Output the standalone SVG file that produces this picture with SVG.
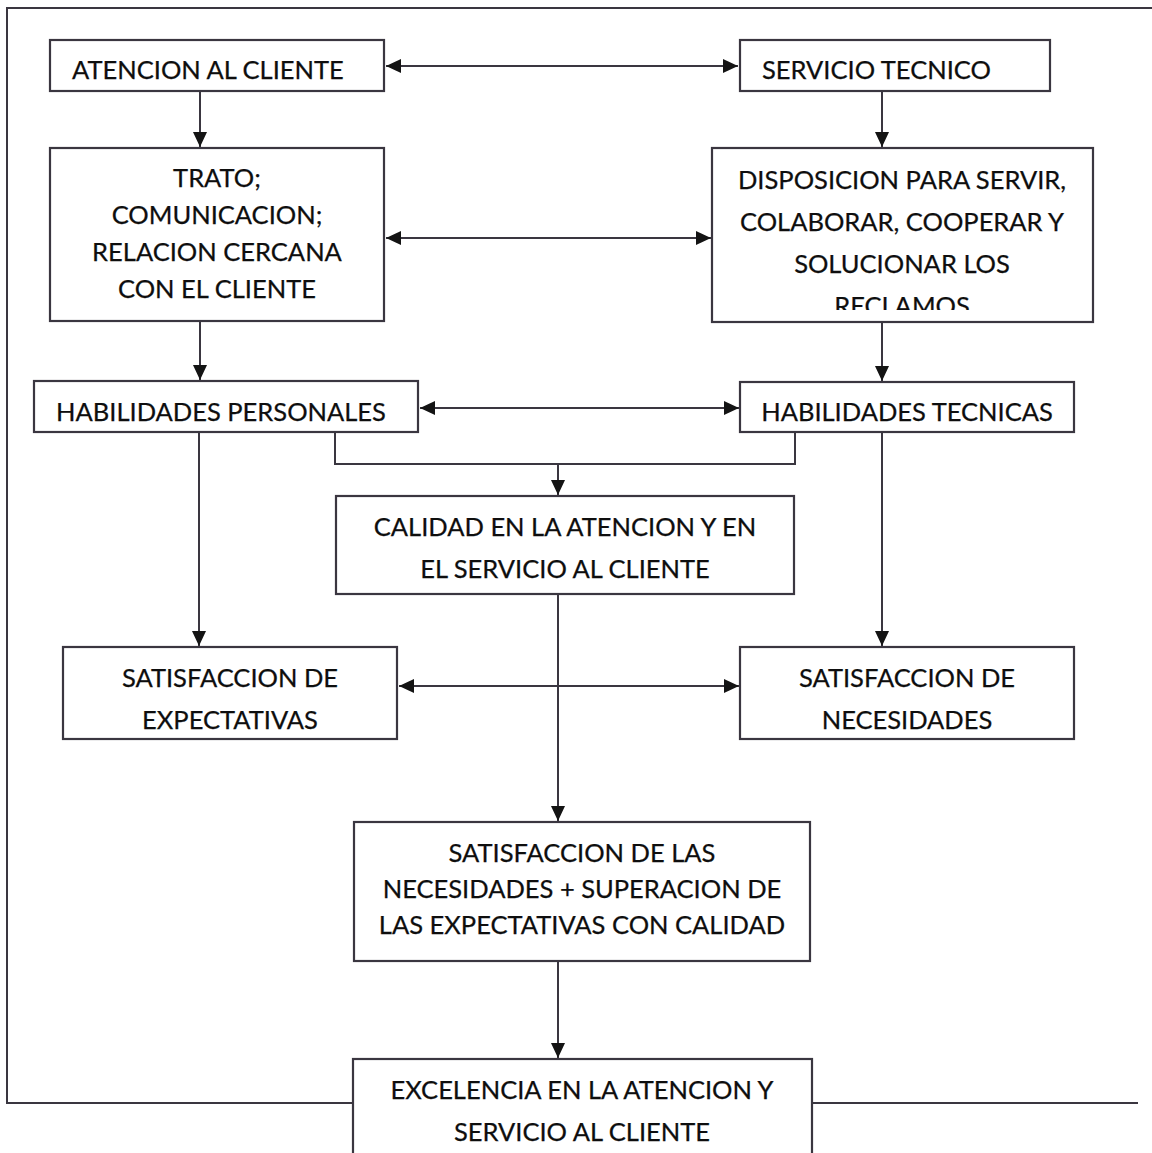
<svg xmlns="http://www.w3.org/2000/svg" width="1152" height="1153" viewBox="0 0 1152 1153">
  <style>
    .box { fill: #ffffff; stroke: #3a3640; stroke-width: 2.2; }
    .frame { fill: none; stroke: #3a3640; stroke-width: 2; }
    .wire { fill: none; stroke: #3a3640; stroke-width: 2; }
    .lbl { font-family: Lato, "Liberation Sans", sans-serif; font-size: 25.5px; fill: #0e0e0e; text-anchor: middle; stroke: #0e0e0e; stroke-width: 0.25; }
    .lft { text-anchor: start; }
  </style>
  <defs>
    <marker id="tip" markerUnits="userSpaceOnUse" markerWidth="15" markerHeight="14" refX="15" refY="7" orient="auto-start-reverse">
      <path d="M0,0 L15,7 L0,14 Z" fill="#141414"/>
    </marker>
    <clipPath id="clipDisp">
      <rect x="712" y="148" width="381" height="162"/>
    </clipPath>
  </defs>

  <rect width="1152" height="1153" fill="#ffffff"/>

  <!-- outer frame, open on the right side -->
  <path class="frame" d="M1152,8 H7 V1103 H353 M812,1103 H1138"/>

  <g id="connectors">
    <path class="wire" d="M386,66 H738" marker-start="url(#tip)" marker-end="url(#tip)"/>
    <path class="wire" d="M200,91 V147" marker-end="url(#tip)"/>
    <path class="wire" d="M882,91 V147" marker-end="url(#tip)"/>
    <path class="wire" d="M386,238 H711" marker-start="url(#tip)" marker-end="url(#tip)"/>
    <path class="wire" d="M200,321 V380" marker-end="url(#tip)"/>
    <path class="wire" d="M882,322 V381" marker-end="url(#tip)"/>
    <path class="wire" d="M420,408 H739" marker-start="url(#tip)" marker-end="url(#tip)"/>
    <path class="wire" d="M335,432 V464 H795 V432"/>
    <path class="wire" d="M558,464 V495" marker-end="url(#tip)"/>
    <path class="wire" d="M199,432 V646" marker-end="url(#tip)"/>
    <path class="wire" d="M882,432 V646" marker-end="url(#tip)"/>
    <path class="wire" d="M399,686 H739" marker-start="url(#tip)" marker-end="url(#tip)"/>
    <path class="wire" d="M558,594 V821" marker-end="url(#tip)"/>
    <path class="wire" d="M558,961 V1058" marker-end="url(#tip)"/>
  </g>

  <g id="atencion">
    <rect class="box" x="50" y="40" width="334" height="51"/>
    <text class="lbl lft" x="72" y="79">ATENCION AL CLIENTE</text>
  </g>

  <g id="servicio">
    <rect class="box" x="740" y="40" width="310" height="51"/>
    <text class="lbl lft" x="762" y="79">SERVICIO TECNICO</text>
  </g>

  <g id="trato">
    <rect class="box" x="50" y="148" width="334" height="173"/>
    <text class="lbl" x="217" y="187">TRATO;</text>
    <text class="lbl" x="217" y="224">COMUNICACION;</text>
    <text class="lbl" x="217" y="261">RELACION CERCANA</text>
    <text class="lbl" x="217" y="298">CON EL CLIENTE</text>
  </g>

  <g id="disposicion">
    <rect class="box" x="712" y="148" width="381" height="174"/>
    <g clip-path="url(#clipDisp)">
      <text class="lbl" x="902" y="189">DISPOSICION PARA SERVIR,</text>
      <text class="lbl" x="902" y="231">COLABORAR, COOPERAR Y</text>
      <text class="lbl" x="902" y="273">SOLUCIONAR LOS</text>
      <text class="lbl" x="902" y="315">RECLAMOS</text>
    </g>
  </g>

  <g id="hab-personales">
    <rect class="box" x="34" y="381" width="384" height="51"/>
    <text class="lbl" x="221" y="421">HABILIDADES PERSONALES</text>
  </g>

  <g id="hab-tecnicas">
    <rect class="box" x="740" y="382" width="334" height="50"/>
    <text class="lbl" x="907" y="421">HABILIDADES TECNICAS</text>
  </g>

  <g id="calidad">
    <rect class="box" x="336" y="496" width="458" height="98"/>
    <text class="lbl" x="565" y="536">CALIDAD EN LA ATENCION Y EN</text>
    <text class="lbl" x="565" y="578">EL SERVICIO AL CLIENTE</text>
  </g>

  <g id="sat-expectativas">
    <rect class="box" x="63" y="647" width="334" height="92"/>
    <text class="lbl" x="230" y="687">SATISFACCION DE</text>
    <text class="lbl" x="230" y="729">EXPECTATIVAS</text>
  </g>

  <g id="sat-necesidades">
    <rect class="box" x="740" y="647" width="334" height="92"/>
    <text class="lbl" x="907" y="687">SATISFACCION DE</text>
    <text class="lbl" x="907" y="729">NECESIDADES</text>
  </g>

  <g id="sat-superacion">
    <rect class="box" x="354" y="822" width="456" height="139"/>
    <text class="lbl" x="582" y="862">SATISFACCION DE LAS</text>
    <text class="lbl" x="582" y="898">NECESIDADES + SUPERACION DE</text>
    <text class="lbl" x="582" y="934">LAS EXPECTATIVAS CON CALIDAD</text>
  </g>

  <g id="excelencia">
    <rect class="box" x="353" y="1059" width="459" height="110"/>
    <text class="lbl" x="582" y="1099">EXCELENCIA EN LA ATENCION Y</text>
    <text class="lbl" x="582" y="1141">SERVICIO AL CLIENTE</text>
  </g>
</svg>
